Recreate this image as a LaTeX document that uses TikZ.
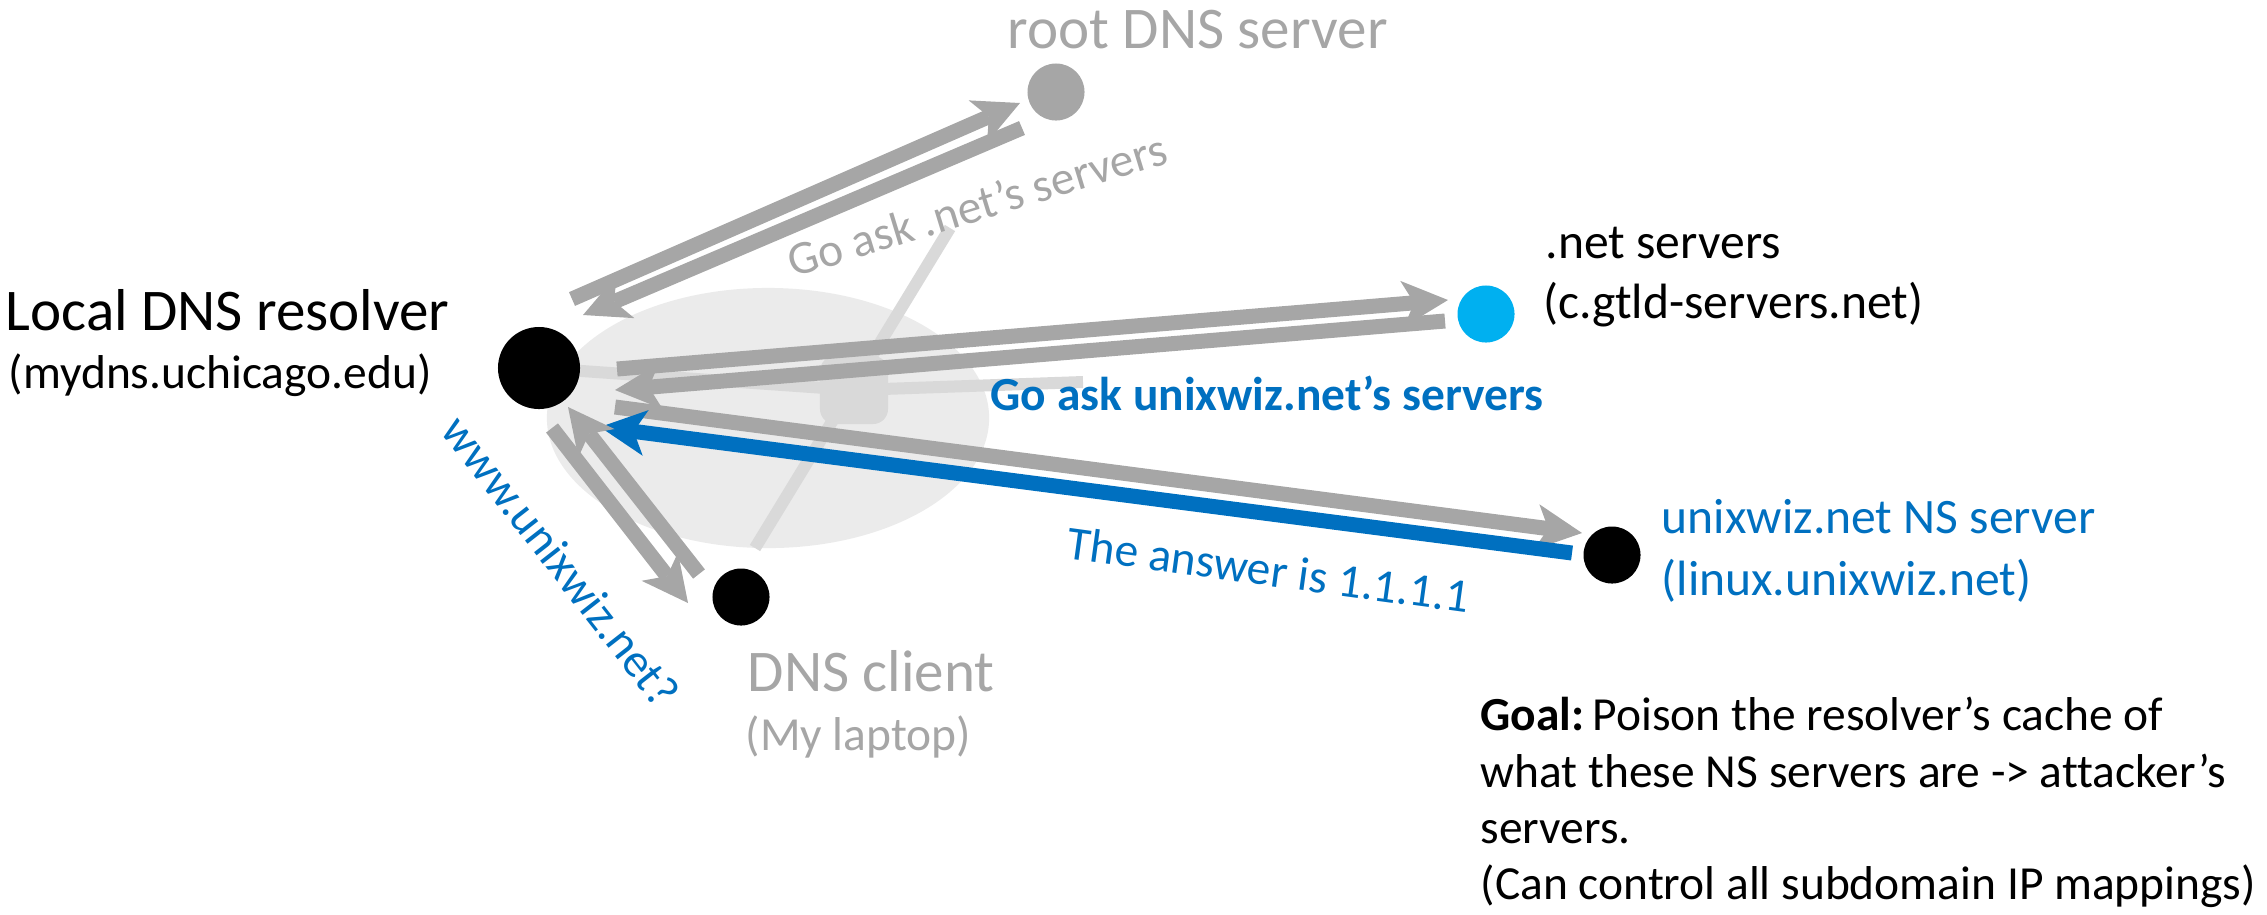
\documentclass[tikz,border=0pt]{standalone}
\usepackage{fontspec}
\setmainfont{Carlito}[Ligatures=NoCommon]
\usetikzlibrary{arrows.meta}

\definecolor{ngray}{HTML}{A6A6A6}
\definecolor{nblue}{HTML}{0070C0}
\definecolor{ncyan}{HTML}{00B0F0}
\definecolor{haze}{HTML}{EBEBEB}
\definecolor{faint}{HTML}{D9D9D9}

\newcommand\fontbig{\fontsize{16.8pt}{20pt}\selectfont}
\newcommand\fontmid{\fontsize{14.1pt}{17pt}\selectfont}
\newcommand\fontsub{\fontsize{13.5pt}{16pt}\selectfont}

\pgfdeclarelayer{bg}
\pgfsetlayers{bg,main}

\tikzset{
  dot/.style={circle, inner sep=0pt, minimum size=0.57cm},
  flow/.style={line width=0.15cm, draw=ngray,
    -{Stealth[length=0.46cm, width=0.46cm, inset=0.12cm, line width=0pt]}},
  reply/.style={flow, draw=nblue},
  spoke/.style={draw=faint, line width=0.12cm},
  lbl/.style={inner sep=0pt, anchor=base west},
}

\begin{document}
\begin{tikzpicture}[x=0.01cm, y=-0.01cm]
\useasboundingbox (0,0) rectangle (2267,914);

% hosts
\node[dot, fill=black, minimum size=0.82cm] (res) at (539,368) {};
\node[dot, fill=ngray] (root) at (1056,92) {};
\node[dot, fill=ncyan] (tld) at (1486,314) {};
\node[dot, fill=black] (ns) at (1612,555) {};
\node[dot, fill=black] (client) at (741,597) {};

% faded network cloud behind the resolver
\begin{pgfonlayer}{bg}
  \fill[haze] (768,418) ellipse [x radius=2.21cm, y radius=1.30cm];
  \node[fill=faint, rounded corners=0.15cm, minimum width=0.68cm,
        minimum height=0.68cm, inner sep=0pt] (hub) at (854,390) {};
  \coordinate (hubN) at (950,228);
  \coordinate (hubS) at (755,548);
  \coordinate (hubE) at (1083,382);
  \draw[spoke] (hubN) -- (hubS);
  \draw[spoke] (res.center) -- (hub.center) -- (hubE);
\end{pgfonlayer}

% message ends
\coordinate (a1s) at (572,299);  \coordinate (a1e) at (1020,103);
\coordinate (a2s) at (1022,128); \coordinate (a2e) at (583,315);
\coordinate (b1s) at (617,369);  \coordinate (b1e) at (1448,300);
\coordinate (b2s) at (1445,321); \coordinate (b2e) at (615,390);
\coordinate (c1s) at (615,407);  \coordinate (c1e) at (1582,533);
\coordinate (c2s) at (1572,553); \coordinate (c2e) at (600,427);
\coordinate (d1s) at (552,428);  \coordinate (d1e) at (688,603);
\coordinate (d2s) at (699,574);  \coordinate (d2e) at (568,407);

% resolver <-> root
\draw[flow] (a1s) -- (a1e);
\draw[flow] (a2s) -- (a2e);
% resolver <-> .net
\draw[flow] (b1s) -- (b1e);
\draw[flow] (b2s) -- (b2e);
% resolver <-> unixwiz.net NS
\draw[flow] (c1s) -- (c1e);
\draw[reply] (c2s) -- (c2e);
% resolver <-> client
\draw[flow] (d1s) -- (d1e);
\draw[flow] (d2s) -- (d2e);

% host labels
\node[lbl, font=\fontbig] (resname) at (5,330) {Local DNS resolver};
\node[lbl, font=\fontsub] (resaddr) at (8,388) {(mydns.uchicago.edu)};
\node[lbl, font=\fontbig, text=ngray] (rootname) at (1007,48) {root DNS server};
\node[lbl, font=\fontbig, text=ngray] (cliname) at (747,691) {DNS client};
\node[lbl, font=\fontsub, text=ngray] (cliaddr) at (745,750) {(My laptop)};
\node[lbl, font=\fontmid] (tldname) at (1545,258) {.net servers};
\node[lbl, font=\fontmid] (tldaddr) at (1543,318) {(c.gtld-servers.net)};
\node[lbl, font=\fontmid, text=nblue] (nsname) at (1661,533) {unixwiz.net NS server};
\node[lbl, font=\fontmid, text=nblue] (nsaddr) at (1661,595) {(linux.unixwiz.net)};

% message labels
\node[lbl, font=\fontsub\bfseries, text=nblue] (referral) at (990,410) {Go ask unixwiz.net’s servers};
\node[lbl, font=\fontsub, text=ngray, rotate=17] (rootreply) at (793,278) {Go ask .net’s servers};
\node[lbl, font=\fontsub, text=nblue, rotate=-7.8] (answer) at (1065,558) {The answer is 1.1.1.1};
\node[font=\fontsub, text=nblue, rotate=-52, inner sep=0pt] (query) at (561,561) {www.unixwiz.net?};

% goal note
\node[lbl, font=\fontsub] (goal1) at (1480,730) {\textbf{Goal:}\,Poison the resolver’s cache of};
\node[lbl, font=\fontsub] (goal2) at (1480,787) {what these NS servers are -> attacker’s};
\node[lbl, font=\fontsub] (goal3) at (1480,843) {servers.};
\node[lbl, font=\fontsub] (goal4) at (1480,899) {(Can control all subdomain IP mappings)};
\end{tikzpicture}
\end{document}
